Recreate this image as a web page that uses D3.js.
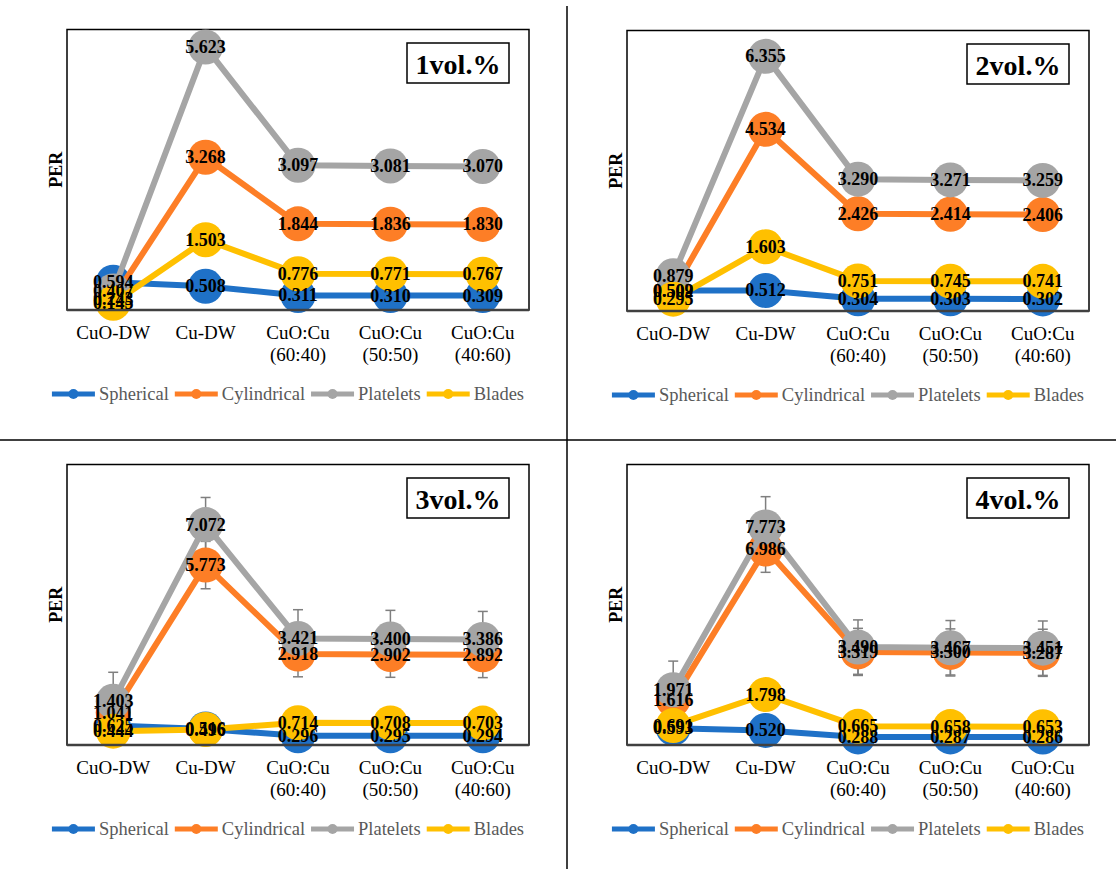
<!DOCTYPE html>
<html lang="en">
<head>
    <meta charset="UTF-8">
    <title>PER</title>
    <script src="https://d3js.org/d3.v7.min.js"></script>
    <style>
        body { margin: 0; background: #fff; }
    </style>
</head>
<body>
    <div id="chart"></div>
    <script>
        // categories (multi-line labels)
        var categories = [["CuO-DW"], ["Cu-DW"], ["CuO:Cu", "(60:40)"], ["CuO:Cu", "(50:50)"], ["CuO:Cu", "(40:60)"]];
        var seriesNames = ["Spherical", "Cylindrical", "Platelets", "Blades"];
        var panelTitles = ["1vol.%", "2vol.%", "3vol.%", "4vol.%"];
        var yMax = [6, 7, 9, 10];

        // one row per panel (1, 2, 3, 4 vol.%)
        var spherical = [
            [0.594, 0.508, 0.311, 0.310, 0.309],
            [0.509, 0.512, 0.304, 0.303, 0.302],
            [0.625, 0.516, 0.296, 0.295, 0.294],
            [0.593, 0.520, 0.288, 0.287, 0.286]
        ];
        var cylindrical = [
            [0.243, 3.268, 1.844, 1.836, 1.830],
            [0.502, 4.534, 2.426, 2.414, 2.406],
            [1.041, 5.773, 2.918, 2.902, 2.892],
            [1.616, 6.986, 3.319, 3.300, 3.287]
        ];
        var platelets = [
            [0.407, 5.623, 3.097, 3.081, 3.070],
            [0.879, 6.355, 3.290, 3.271, 3.259],
            [1.403, 7.072, 3.421, 3.400, 3.386],
            [1.971, 7.773, 3.490, 3.467, 3.451]
        ];
        var blades = [
            [0.145, 1.503, 0.776, 0.771, 0.767],
            [0.295, 1.603, 0.751, 0.745, 0.741],
            [0.444, 0.496, 0.714, 0.708, 0.703],
            [0.691, 1.798, 0.665, 0.658, 0.653]
        ];
        // error bars (only 3 and 4 vol.%)
        var cylindricalErr = [null, null,
            [0.50, 0.76, 0.73, 0.73, 0.73],
            [0.50, 0.83, 0.84, 0.84, 0.84]
        ];
        var plateletsErr = [null, null,
            [0.93, 0.87, 0.92, 0.92, 0.90],
            [1.02, 1.08, 0.97, 0.97, 0.97]
        ];

        var colors = ['#1f71c7', '#fd7e26', '#a5a5a5', '#ffc000'];
        var allSeries = [spherical, cylindrical, platelets, blades];
        var allErr = [null, cylindricalErr, plateletsErr, null];

        var width = 1116, height = 869;
        var offsets = [[0, 0], [560, 1], [0, 435], [560, 435]];
        var fx0 = 67, fx1 = 529, fy0 = 29.5, fy1 = 310;
        var r = 17.5;

        var svg = d3.select('#chart').append('svg')
            .attr('width', width)
            .attr('height', height);

        // pick the first serif font that is really installed
        function pickFont(list) {
            var probe = svg.append('text').attr('font-size', '40px').text('abcdefWMil0123');
            probe.attr('font-family', 'monospace');
            var mono = probe.node().getComputedTextLength();
            probe.attr('font-family', 'sans-serif');
            var sans = probe.node().getComputedTextLength();
            var found = null;
            list.forEach(function (f) {
                if (found) return;
                probe.attr('font-family', '"' + f + '", monospace');
                var a = probe.node().getComputedTextLength();
                probe.attr('font-family', '"' + f + '", sans-serif');
                var b = probe.node().getComputedTextLength();
                if (a !== mono || b !== sans) found = f;
            });
            probe.remove();
            return found ? '"' + found + '", serif' : 'serif';
        }
        var serif = pickFont(['Liberation Serif', 'Times New Roman', 'Tinos', 'DejaVu Serif', 'Noto Serif', 'FreeSerif', 'Nimbus Roman']);
        svg.attr('font-family', serif);

        // dividers
        svg.append('line').attr('x1', 567).attr('x2', 567).attr('y1', 6).attr('y2', height)
            .attr('stroke', '#000').attr('stroke-width', 1.5);
        svg.append('line').attr('x1', 0).attr('x2', width).attr('y1', 440).attr('y2', 440)
            .attr('stroke', '#000').attr('stroke-width', 1.5);

        panelTitles.forEach(function (title, p) {
            var g = svg.append('g')
                .attr('transform', 'translate(' + offsets[p][0] + ',' + offsets[p][1] + ')');

            var x = d3.scaleBand().domain(d3.range(categories.length)).range([fx0, fx1]);
            var y = d3.scaleLinear().domain([0, yMax[p]]).range([fy1, fy0]);
            var cx = function (i) { return x(i) + x.bandwidth() / 2; };

            // frame
            g.append('rect')
                .attr('x', fx0).attr('y', fy0)
                .attr('width', fx1 - fx0).attr('height', fy1 - fy0)
                .attr('fill', 'none').attr('stroke', '#000').attr('stroke-width', 1.5);

            // error bars
            allErr.forEach(function (errs, s) {
                if (!errs || !errs[p]) return;
                var vals = allSeries[s][p];
                errs[p].forEach(function (e, i) {
                    var eg = g.append('g').attr('stroke', '#7f7f7f').attr('stroke-width', 1.5);
                    eg.append('line').attr('x1', cx(i)).attr('x2', cx(i))
                        .attr('y1', y(vals[i] + e)).attr('y2', y(vals[i] - e));
                    [vals[i] + e, vals[i] - e].forEach(function (v) {
                        eg.append('line').attr('x1', cx(i) - 5).attr('x2', cx(i) + 5)
                            .attr('y1', y(v)).attr('y2', y(v));
                    });
                });
            });

            // series lines + markers
            var line = d3.line().x(function (d, i) { return cx(i); }).y(function (d) { return y(d); });
            allSeries.forEach(function (ser, s) {
                var sg = g.append('g');
                sg.append('path')
                    .attr('d', line(ser[p]))
                    .attr('fill', 'none')
                    .attr('stroke', colors[s])
                    .attr('stroke-width', 6)
                    .attr('stroke-linejoin', 'round');
                sg.selectAll('circle')
                    .data(ser[p])
                    .enter()
                    .append('circle')
                    .attr('cx', function (d, i) { return cx(i); })
                    .attr('cy', function (d) { return y(d); })
                    .attr('r', r)
                    .attr('fill', colors[s]);
            });

            // axis line
            g.append('line').attr('x1', fx0).attr('x2', fx1).attr('y1', fy1).attr('y2', fy1)
                .attr('stroke', '#404040').attr('stroke-width', 2.5);

            // data labels
            allSeries.forEach(function (ser) {
                g.append('g').selectAll('text')
                    .data(ser[p])
                    .enter()
                    .append('text')
                    .attr('x', function (d, i) { return cx(i); })
                    .attr('y', function (d) { return y(d); })
                    .attr('text-anchor', 'middle')
                    .attr('dominant-baseline', 'central')
                    .attr('font-size', '18px')
                    .attr('font-weight', 'bold')
                    .attr('fill', '#000')
                    .text(function (d) { return d.toFixed(3); });
            });

            // category labels
            categories.forEach(function (lines, i) {
                lines.forEach(function (t, k) {
                    g.append('text')
                        .attr('x', cx(i))
                        .attr('y', 332 + k * 22.5)
                        .attr('text-anchor', 'middle')
                        .attr('dominant-baseline', 'central')
                        .attr('font-size', '19px')
                        .attr('fill', '#000')
                        .text(t);
                });
            });

            // y title
            g.append('text')
                .attr('transform', 'translate(56,' + ((fy0 + fy1) / 2) + ') rotate(-90)')
                .attr('text-anchor', 'middle')
                .attr('dominant-baseline', 'central')
                .attr('font-size', '18px')
                .attr('font-weight', 'bold')
                .text('PER');

            // title box
            g.append('rect')
                .attr('x', 407).attr('y', 43).attr('width', 102).attr('height', 40)
                .attr('fill', '#fff').attr('stroke', '#000').attr('stroke-width', 1.5);
            g.append('text')
                .attr('x', 458).attr('y', 64)
                .attr('text-anchor', 'middle')
                .attr('dominant-baseline', 'central')
                .attr('font-size', '28px')
                .attr('font-weight', 'bold')
                .text(title);

            // legend
            var lg = g.append('g');
            var xpos = 0;
            seriesNames.forEach(function (name, s) {
                var item = lg.append('g').attr('transform', 'translate(' + xpos + ',0)');
                item.append('line').attr('x1', 0).attr('x2', 43).attr('y1', 0).attr('y2', 0)
                    .attr('stroke', colors[s]).attr('stroke-width', 5);
                item.append('circle').attr('cx', 21.5).attr('cy', 0).attr('r', 5).attr('fill', colors[s]);
                var t = item.append('text')
                    .attr('x', 47).attr('y', 0)
                    .attr('dominant-baseline', 'central')
                    .attr('font-size', '18.5px')
                    .attr('fill', '#595959')
                    .text(name);
                xpos += 47 + t.node().getComputedTextLength() + 6;
            });
            lg.attr('transform', 'translate(' + (288 - (xpos - 6) / 2) + ',394)');
        });
    </script>
</body>
</html>
